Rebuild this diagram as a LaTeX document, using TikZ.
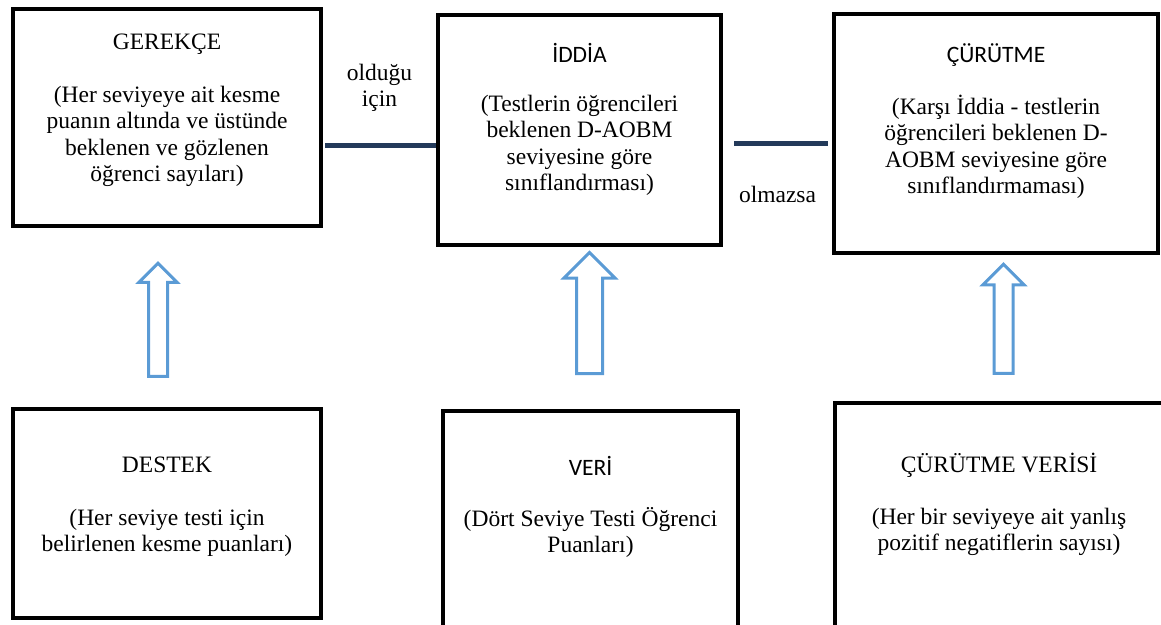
\documentclass[tikz,border=0pt]{standalone}
\usepackage{fontspec}
\setmainfont{Liberation Serif}
\newfontfamily\calibri{Carlito}
\usetikzlibrary{shapes.arrows}

\definecolor{linkblue}{RGB}{35,58,90}
\definecolor{arrowblue}{RGB}{91,155,213}

\tikzset{
	box/.style={draw, line width=4pt, inner sep=0pt},
	txt/.style={font=\fontsize{23.5}{26.5}\selectfont, align=center, inner sep=0pt},
	link/.style={draw=linkblue, line width=5pt},
	uparrow/.style 2 args={shape=single arrow, draw=arrowblue, line width=3pt, rotate=90,
		inner xsep=0pt, inner ysep=#1, single arrow head extend=#2, single arrow head indent=0pt},
}

\begin{document}
\begin{tikzpicture}[x=1pt, y=-1pt]
	\clip (0,0) rectangle (1161,624);
	% top row
	\node[box, minimum width=308, minimum height=217] (gerekce) at (167,117.5) {};
	\node[box, minimum width=283, minimum height=230] (iddia) at (579.5,130) {};
	\node[box, minimum width=324, minimum height=239] (curutme) at (996,133.5) {};
	\node[txt, anchor=north] (gerekce-t) at (167,28) {\rule{0pt}{21pt}GEREKÇE\\[26.5pt]
		(Her seviyeye ait kesme\\puanın altında ve üstünde\\beklenen ve gözlenen\\öğrenci sayıları)};
	\node[txt, anchor=north] (iddia-t) at (579.5,41) {\rule{0pt}{21pt}{\calibri İDDİA}\\[22.5pt]
		(Testlerin öğrencileri\\beklenen D-AOBM\\seviyesine göre\\sınıflandırması)};
	\node[txt, anchor=north] (curutme-t) at (996,41) {\rule{0pt}{21pt}{\calibri ÇÜRÜTME}\\[25.5pt]
		(Karşı İddia - testlerin\\öğrencileri beklenen D-\\AOBM seviyesine göre\\sınıflandırmaması)};
	% bottom row
	\node[box, minimum width=308, minimum height=209] (destek) at (167,513.5) {};
	\node[box, minimum width=295, minimum height=229] (veri) at (590.5,525.5) {};
	\node[box, minimum width=330, minimum height=237] (cverisi) at (1000,521.5) {};
	\node[txt, anchor=north] (destek-t) at (167,451) {\rule{0pt}{21pt}DESTEK\\[26.5pt]
		(Her seviye testi için\\belirlenen kesme puanları)};
	\node[txt, anchor=north] (veri-t) at (590.5,454) {\rule{0pt}{21pt}{\calibri VERİ}\\[24.5pt]
		(Dört Seviye Testi Öğrenci\\Puanları)};
	\node[txt, anchor=north] (cverisi-t) at (999,451) {\rule{0pt}{21pt}ÇÜRÜTME VERİSİ\\[25.5pt]
		(Her bir seviyeye ait yanlış\\pozitif negatiflerin sayısı)};
	% block arrows
	\node[uparrow={8pt}{9.5pt}, minimum height=113] (up1) at (158,324.5) {};
	\node[uparrow={11.5pt}{12.5pt}, minimum height=121] (up2) at (589.5,319.5) {};
	\node[uparrow={8pt}{11pt}, minimum height=109] (up3) at (1003.5,323.5) {};
	% links
	\coordinate (y1) at (0,145);
	\coordinate (y2) at (0,143);
	\draw[link, shorten <=2pt] (gerekce.east |- y1) -- node[txt, above=31pt] (olur) {olduğu\\için} (iddia.west |- y1);
	\draw[link, shorten <=11pt, shorten >=4pt] (iddia.east |- y2) -- node[txt, below=41pt] (olmaz) {olmazsa} (curutme.west |- y2);
\end{tikzpicture}
\end{document}
